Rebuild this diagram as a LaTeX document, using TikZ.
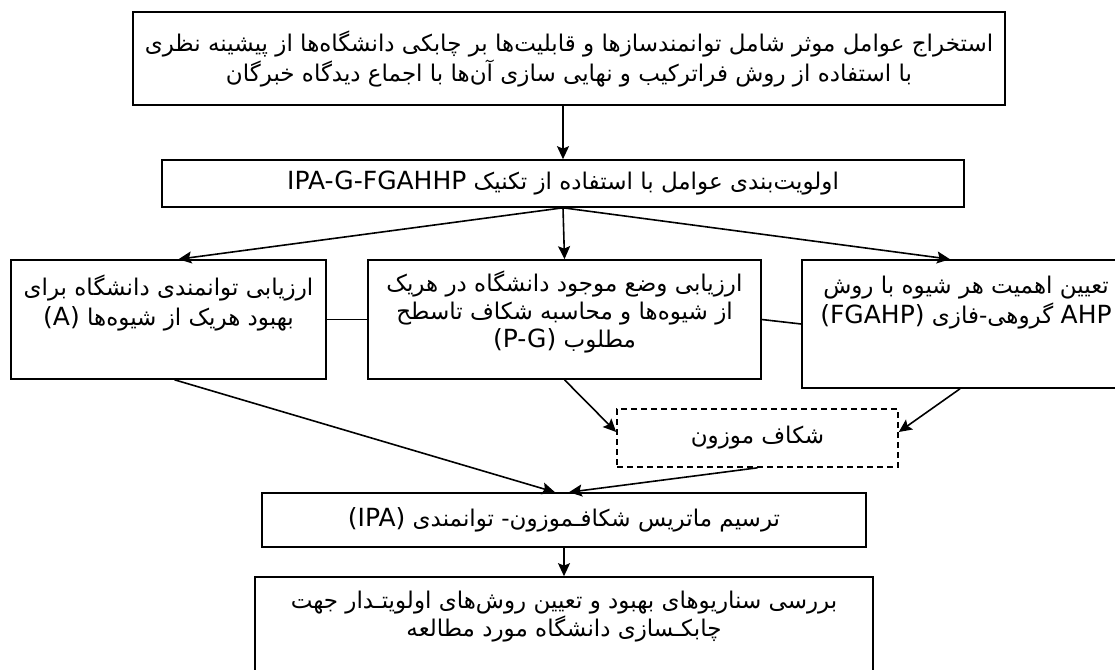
\documentclass[tikz,border=0pt]{standalone}
\usepackage{fontspec}
\setmainfont{DejaVu Sans}
\newfontfamily\fafont[Script=Arabic]{DejaVu Sans}
\TeXXeTstate=1
\usetikzlibrary{arrows.meta}
\newcommand{\rtlline}[1]{\beginR #1\endR}
\newcommand{\ltrword}[1]{\beginL{\normalfont\fontsize{12.5}{15}\selectfont #1}\endL}

\tikzset{
  box/.style={draw, rectangle, thick, align=center, inner sep=0pt,
    font=\fafont\fontsize{11.5}{15}\selectfont},
  dashbox/.style={box, dash pattern=on 3pt off 2pt},
}

\begin{document}
\begin{tikzpicture}[->,>={Stealth[length=6.5pt,width=6pt,inset=1.2pt]},thick,x=0.5pt,y=-0.5pt]
  \useasboundingbox (0,0) rectangle (1115,670);

  \node[box, minimum width=436pt, minimum height=46.5pt] (B1) at (569,58.5)
    {\rtlline{استخراج عوامل موثر شامل توانمندسازها و قابلیت‌ها بر چابکی دانشگاه‌ها از پیشینه نظری}\\
     \rtlline{با استفاده از روش فراترکیب و نهایی سازی آن‌ها با اجماع دیدگاه خبرگان}};
  \node[box, minimum width=401pt, minimum height=23.5pt] (B2) at (563,183.5)
    {\rtlline{اولویت‌بندی عوامل با استفاده از تکنیک \ltrword{IPA-G-FGAHHP}}};

  \node[box, minimum width=157.5pt, text height=32.5pt, text depth=27pt] (L) at (168.5,319.5)
    {\rtlline{ارزیابی توانمندی دانشگاه برای}\\
     \rtlline{بهبود هریک از شیوه‌ها \ltrword{(A)}}};
  \node[box, font=\fafont\fontsize{11.5}{14}\selectfont,
        minimum width=196.5pt, text height=43.5pt, text depth=16pt] (M) at (564.5,319.5)
    {\rtlline{ارزیابی وضع موجود دانشگاه در هریک}\\
     \rtlline{از شیوه‌ها و محاسبه شکاف تاسطح}\\
     \rtlline{مطلوب \ltrword{(P-G)}}};
  \node[box, minimum width=164pt, text height=31.5pt, text depth=32.5pt] (R) at (966,324)
    {\rtlline{تعیین اهمیت هر شیوه با روش}\\
     \rtlline{\ltrword{AHP} گروهی\kern0pt-\kern0pt فازی \ltrword{(FGAHP)}}};

  \node[dashbox, minimum width=140.5pt, minimum height=29pt] (D) at (757.5,438)
    {\rtlline{شکاف موزون}};
  \node[box, minimum width=302pt, minimum height=27pt] (I) at (564,520)
    {\rtlline{ترسیم ماتریس شکافـموزون\kern0pt- توانمندی \ltrword{(IPA)}}};
  \node[box, font=\fafont\fontsize{11.5}{14}\selectfont,
        minimum width=309pt, text height=29.5pt, text depth=32pt] (F) at (564,638.5)
    {\rtlline{بررسی سناریوهای بهبود و تعیین روش‌های اولویتـدار جهت}\\
     \rtlline{چابکـسازی دانشگاه مورد مطالعه}};

  \draw (B1.south -| B2.north) -- (B2.north);
  \draw (B2.south) -- ([xshift=5pt]L.north);
  \draw (B2.south) -- (M.north);
  \draw (B2.south) -- ([xshift=-8pt]R.north);
  \draw[-] (L.east) -- (M.west);
  \draw[-] (M.east) -- (R.west);
  \draw (M.south) -- ([yshift=3pt]D.west);
  \draw ([xshift=-3pt]R.south) -- ([yshift=3pt]D.east);
  \draw ([xshift=3pt]L.south) -- ([xshift=-4.5pt]I.north);
  \draw (D.south) -- ([xshift=2.5pt]I.north);
  \draw (I.south) -- (F.north);
\end{tikzpicture}
\end{document}
